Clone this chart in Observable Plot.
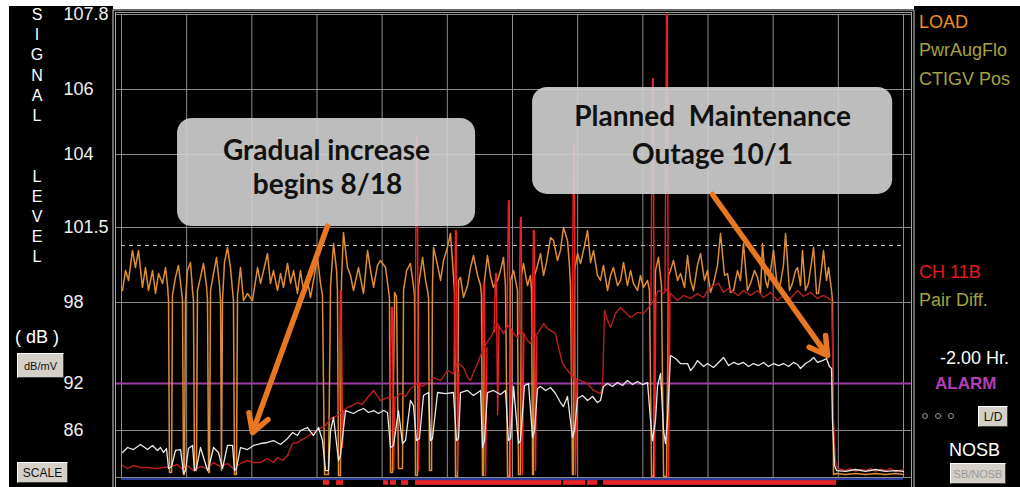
<!DOCTYPE html>
<html><head><meta charset="utf-8">
<script src="https://cdn.jsdelivr.net/npm/d3@7"></script>
<script src="https://cdn.jsdelivr.net/npm/@observablehq/plot@0.6"></script>
<style>
html,body{margin:0;padding:0;background:#fff;width:1020px;height:487px;overflow:hidden;font-family:"Liberation Sans",Arial,sans-serif;}
#leftp{position:absolute;left:9px;top:6px;width:104px;height:481px;background:#000;}
#rightp{position:absolute;left:914px;top:6px;width:106px;height:481px;background:#000;}
#chart{position:absolute;left:9px;top:9px;}
.lbl{position:absolute;white-space:pre;line-height:1;transform:translateY(-50%);font-size:18px;}
.btn{position:absolute;background:#d4d0c8;border-top:1px solid #fff;border-left:1px solid #fff;border-right:1px solid #404040;border-bottom:1px solid #404040;box-sizing:border-box;display:flex;align-items:center;justify-content:center;color:#111;font-size:12px;}
.dot{position:absolute;width:4px;height:4px;border:1px solid #9a9a9a;border-radius:50%;}
</style></head>
<body>
<div id="leftp"></div><div id="rightp"></div><div id="chart"></div><div id="overlay"></div>
<script>
// ---- data (x = days after the first grid line, y = displayed signal level) ----
const loadPts = [[0.08,98.56],[0.31,99.49],[0.54,99.03],[0.84,100.43],[1.07,99.63],[1.30,100.43],[1.61,98.70],[1.84,99.63],[2.07,98.56],[2.38,99.49],[2.61,98.42],[2.84,99.35],[3.15,98.89],[3.38,99.63],[3.53,98.79],[3.61,98.09],[3.68,80.64],[3.84,80.64],[3.91,98.33],[4.14,99.17],[4.37,99.73],[4.60,98.56],[4.68,98.09],[4.76,80.38],[4.83,80.38],[4.91,98.09],[5.06,99.49],[5.29,99.87],[5.45,98.56],[5.52,98.09],[5.60,80.89],[5.75,80.89],[5.83,98.56],[6.06,99.17],[6.29,99.82],[6.52,98.79],[6.60,98.09],[6.68,80.64],[6.75,80.64],[6.83,98.56],[7.06,99.35],[7.29,100.10],[7.52,98.79],[7.60,98.09],[7.67,80.89],[7.75,98.09],[7.90,99.87],[8.13,100.57],[8.36,99.63],[8.52,98.56],[8.59,98.09],[8.67,80.38],[8.82,80.38],[8.90,98.33],[9.13,99.63],[9.36,98.09],[9.67,98.42],[10.05,98.09],[10.44,99.63],[10.67,98.89],[10.90,99.49],[11.20,100.29],[11.43,98.89],[11.66,99.49],[11.97,98.56],[12.20,99.35],[12.43,98.70],[12.74,99.82],[12.97,98.89],[13.20,99.49],[13.50,98.42],[13.73,99.49],[13.96,98.56],[14.27,99.03],[14.50,98.23],[14.73,99.03],[15.04,100.10],[15.27,98.89],[15.42,98.33],[15.58,80.38],[15.88,80.38],[16.04,98.79],[16.27,100.75],[16.50,99.49],[16.57,98.56],[16.65,80.26],[16.80,80.26],[16.88,99.03],[17.03,101.27],[17.34,99.63],[17.57,99.26],[17.80,98.56],[18.18,99.63],[18.57,98.42],[18.88,100.43],[19.11,99.49],[19.34,98.70],[19.64,99.73],[19.87,99.96],[20.26,99.63],[20.49,98.56],[20.56,98.19],[20.64,80.64],[20.79,80.64],[20.95,98.47],[21.10,98.28],[21.25,81.15],[21.56,81.15],[21.64,98.56],[21.87,99.49],[22.17,99.82],[22.40,98.79],[22.48,98.33],[22.56,80.26],[22.71,80.26],[22.79,98.79],[23.10,100.10],[23.33,99.03],[23.48,98.56],[23.56,98.19],[23.63,80.89],[23.79,80.89],[23.86,98.79],[23.94,100.57],[24.25,99.73],[24.48,99.03],[24.71,99.96],[25.01,100.57],[25.24,101.22],[25.47,99.26],[25.55,98.47],[25.63,80.13],[25.78,80.13],[25.86,99.03],[26.01,99.17],[26.24,98.23],[26.55,98.79],[26.78,99.63],[27.01,100.19],[27.32,99.26],[27.55,98.79],[27.62,98.33],[27.70,80.26],[27.78,80.26],[27.85,99.03],[28.08,100.19],[28.31,99.26],[28.54,98.70],[28.85,99.03],[29.08,99.49],[29.31,100.10],[29.46,98.79],[29.62,80.13],[29.77,80.13],[29.85,99.03],[30.08,99.49],[30.31,98.79],[30.38,98.56],[30.46,80.38],[30.61,80.38],[30.69,99.26],[30.84,99.82],[31.15,98.79],[31.38,99.26],[31.46,98.56],[31.54,80.38],[31.61,80.38],[31.69,99.26],[31.92,99.73],[32.15,100.29],[32.38,99.26],[32.61,99.87],[32.92,101.03],[33.15,100.89],[33.45,99.96],[33.68,100.43],[33.91,101.50],[34.22,100.89],[34.37,99.73],[34.45,98.79],[34.60,80.38],[34.68,80.38],[34.76,99.49],[34.99,100.29],[35.22,99.82],[35.53,100.66],[35.76,101.36],[35.99,99.87],[36.22,100.43],[36.52,99.26],[36.75,99.03],[36.98,99.73],[37.29,98.56],[37.52,99.26],[37.75,99.63],[38.06,98.79],[38.29,99.03],[38.52,99.87],[38.82,98.79],[39.06,99.49],[39.28,98.89],[39.59,98.56],[39.82,99.26],[40.05,98.70],[40.36,99.03],[40.51,98.56],[40.67,80.13],[40.82,80.13],[40.97,99.49],[41.20,100.10],[41.43,98.79],[41.59,80.13],[41.82,80.13],[41.97,99.26],[42.12,99.49],[42.35,99.96],[42.66,99.03],[42.89,99.35],[43.20,98.70],[43.43,100.19],[43.66,99.03],[43.89,98.56],[44.19,99.73],[44.43,100.29],[44.73,99.03],[44.96,99.49],[45.19,98.47],[45.42,98.89],[45.73,99.73],[45.96,101.22],[46.27,99.26],[46.50,99.35],[46.73,98.47],[46.96,98.56],[47.26,99.49],[47.49,99.03],[47.72,100.75],[48.03,98.56],[48.26,98.89],[48.57,99.49],[48.80,99.17],[49.03,98.47],[49.18,100.75],[49.41,99.03],[49.57,98.70],[49.80,99.49],[50.03,100.43],[50.33,98.65],[50.56,98.89],[50.79,99.73],[50.95,101.22],[51.25,98.56],[51.48,98.89],[51.71,99.49],[51.87,99.63],[52.10,98.79],[52.25,100.43],[52.48,98.56],[52.71,98.89],[52.94,99.87],[53.10,100.57],[53.33,98.42],[53.48,98.42],[53.71,99.59],[53.86,100.43],[54.09,99.03],[54.25,99.63],[54.48,98.56],[54.55,98.09],[54.63,80.38],[54.86,80.51],[55.55,80.38],[56.32,80.51],[57.09,80.38],[57.85,80.51],[58.62,80.38],[59.39,80.51],[60,80.38]];

const ch11bPts = [[0.08,81.53],[0.46,81.15],[0.92,81.53],[1.46,81.28],[2.0,81.28],[2.61,81.15],[3.22,81.28],[3.76,81.40],[4.30,81.66],[4.76,80.89],[5.06,81.53],[5.52,80.89],[6.06,81.40],[6.60,81.15],[7.06,81.91],[7.60,81.40],[8.13,81.79],[8.59,81.15],[9.13,81.79],[9.67,82.17],[10.13,81.91],[10.67,81.91],[11.20,82.43],[11.66,81.91],[11.97,82.56],[12.36,82.17],[12.74,82.81],[13.12,84.34],[13.50,84.47],[13.73,84.72],[14.27,85.23],[14.73,85.74],[15.27,86.26],[15.65,86.64],[16.04,87.53],[16.57,87.91],[17.03,88.55],[17.34,88.94],[17.72,89.19],[18.11,89.57],[18.49,89.32],[18.88,90.21],[19.34,91.11],[19.87,89.83],[20.41,90.21],[20.87,90.09],[21.41,90.72],[21.79,90.34],[22.17,91.36],[22.71,92.0],[23.10,91.62],[23.48,92.07],[23.94,92.44],[24.48,92.22],[25.01,92.96],[25.47,92.74],[25.78,93.56],[26.24,93.19],[26.55,92.44],[26.78,92.22],[27.01,92.81],[27.32,93.48],[27.78,94.67],[28.31,95.41],[28.85,96.44],[29.08,96.07],[29.31,95.70],[29.62,96.30],[29.85,96.15],[30.08,95.70],[30.38,95.41],[30.61,95.93],[30.84,95.70],[31.15,95.19],[31.38,94.96],[31.61,95.48],[31.92,95.70],[32.15,96.07],[32.38,96.44],[32.69,96.07],[32.92,95.93],[33.30,95.70],[33.53,94.67],[33.84,93.48],[34.22,92.96],[34.68,92.44],[35.22,92.22],[35.76,92.0],[36.22,91.11],[36.75,90.72],[36.91,91.49],[37.06,97.41],[37.29,96.67],[37.52,96.15],[37.90,97.19],[38.29,97.63],[38.67,97.26],[39.06,96.89],[39.59,97.26],[40.05,97.19],[40.44,97.63],[40.82,98.09],[41.20,98.56],[41.59,98.42],[41.89,98.65],[42.12,98.42],[42.66,98.09],[43.12,98.33],[43.66,98.19],[44.19,98.42],[44.66,98.23],[45.04,98.65],[45.42,98.79],[45.81,98.89],[46.19,98.47],[46.58,98.65],[46.96,98.47],[47.34,98.33],[47.72,98.56],[48.26,98.33],[48.80,98.56],[49.26,98.23],[49.80,98.47],[50.33,98.09],[50.79,98.33],[51.33,98.19],[51.87,98.56],[52.33,98.28],[52.86,98.47],[53.40,98.19],[53.86,98.33],[54.25,98.19],[54.48,98.09],[54.55,95.19],[54.63,87.28],[54.78,82.17],[54.94,81.15],[55.55,80.89],[55.93,81.15],[56.32,80.77],[56.70,81.02],[57.09,80.89],[57.47,81.15],[57.85,80.77],[58.24,81.02],[58.62,80.89],[59.0,81.15],[59.39,80.77],[60,81.02]];

// CH 11B short excursions: [spike id, day, level]
const ch11bSpikes = [
 [1,16.68,88.55],[1,16.80,98.56],[1,16.86,98.56],[1,16.96,83.83],[1,17.06,88.55],
 [2,20.60,90.21],[2,20.72,97.63],[2,20.78,97.63],[2,20.88,80.89],[2,20.98,90.21],
 [3,22.51,92.0],[3,22.63,104.52],[3,22.69,104.52],[3,22.79,80.89],[3,22.89,92.0],
 [4,25.51,92.96],[4,25.63,101.36],[4,25.69,101.36],[4,25.79,80.89],[4,25.89,92.96],
 [5,27.66,94.44],[5,27.78,98.89],[5,27.84,98.89],[5,27.94,80.26],[5,28.04,94.67],
 [6,28.58,95.8],[6,28.70,99.35],[6,28.76,99.35],[6,28.86,88.0],[6,28.96,96.2],
 [7,29.57,96.15],[7,29.69,102.42],[7,29.75,102.42],[7,29.85,80.13],[7,29.95,96.0],
 [8,30.49,95.70],[8,30.61,101.84],[8,30.67,101.84],[8,30.77,80.38],[8,30.87,95.7],
 [9,31.49,95.48],[9,31.61,101.36],[9,31.67,101.36],[9,31.77,80.89],[9,31.87,95.5],
 [10,34.56,92.44],[10,34.68,104.34],[10,34.74,104.34],[10,34.84,80.38],[10,34.94,92.3],
 [11,40.62,98.09],[11,40.74,106.26],[11,40.80,106.26],[11,40.90,80.13],[11,41.00,98.3],
 [12,41.70,98.56],[12,41.82,107.8],[12,41.88,107.8],[12,41.98,80.13],[12,42.08,98.4]
];

const pairDiffPts = [[0.08,83.19],[0.46,83.83],[0.92,83.57],[1.46,84.21],[2.0,83.57],[2.38,84.09],[2.76,83.45],[2.99,83.83],[3.22,83.19],[3.45,83.70],[3.61,81.15],[3.84,81.40],[4.14,83.45],[4.53,83.57],[4.76,80.51],[4.91,80.89],[5.14,83.70],[5.45,84.09],[5.60,80.89],[5.75,81.15],[6.06,83.83],[6.60,80.89],[6.68,81.15],[7.06,83.83],[7.44,83.19],[7.75,81.15],[8.13,84.09],[8.52,84.09],[8.67,80.89],[8.82,81.15],[9.13,83.83],[9.67,83.57],[10.13,84.09],[10.67,84.34],[11.20,84.47],[11.66,84.72],[12.20,84.21],[12.74,84.98],[13.12,85.74],[13.50,85.36],[13.73,86.0],[14.27,86.38],[14.73,85.36],[15.12,86.38],[15.42,84.72],[15.65,80.89],[15.88,80.89],[16.04,86.0],[16.27,87.66],[16.65,82.17],[16.80,82.81],[17.19,88.55],[17.80,88.17],[18.18,88.55],[18.57,88.81],[18.95,88.30],[19.34,88.55],[19.72,88.17],[20.11,88.55],[20.41,88.30],[20.64,83.83],[20.87,84.09],[21.25,88.55],[21.56,84.34],[21.79,84.72],[22.17,89.83],[22.40,89.19],[22.63,84.72],[22.86,84.98],[23.17,90.47],[23.56,90.85],[23.71,84.72],[23.86,84.98],[24.25,90.85],[24.86,90.72],[25.47,90.85],[25.70,84.72],[25.86,84.98],[26.01,90.85],[26.55,91.11],[27.01,90.47],[27.55,91.11],[27.70,83.83],[27.85,84.72],[28.08,90.85],[28.54,91.11],[29.08,90.60],[29.46,91.11],[29.69,84.72],[29.85,84.98],[30.08,91.62],[30.46,84.34],[30.61,84.72],[30.92,91.74],[31.23,91.99],[31.54,85.11],[31.69,86.0],[31.92,91.36],[32.15,91.62],[32.54,91.11],[32.92,91.49],[33.30,90.72],[33.68,89.57],[33.91,89.06],[34.22,90.34],[34.60,85.11],[34.76,86.0],[34.99,90.09],[35.37,90.47],[35.76,89.83],[36.14,90.34],[36.52,89.57],[36.75,89.83],[36.98,91.62],[37.29,92.0],[37.67,91.62],[38.06,92.07],[38.44,91.74],[38.82,92.22],[39.21,91.87],[39.59,92.15],[39.97,91.87],[40.36,92.07],[40.59,87.28],[40.74,84.72],[40.97,87.28],[41.13,91.74],[41.36,92.74],[41.59,86.0],[41.74,84.34],[41.89,87.28],[42.12,94.07],[42.51,93.85],[42.89,93.48],[43.43,93.48],[43.66,92.96],[43.97,93.33],[44.19,93.70],[44.66,93.26],[44.96,93.48],[45.42,93.19],[45.81,93.56],[46.19,93.93],[46.58,93.33],[46.96,93.56],[47.34,93.41],[47.72,93.56],[48.11,93.26],[48.49,93.48],[48.88,93.33],[49.26,93.56],[49.64,93.26],[50.03,93.48],[50.41,93.33],[50.79,93.48],[51.18,93.26],[51.56,93.56],[51.87,93.41],[52.10,93.11],[52.48,93.48],[52.86,93.70],[53.10,93.93],[53.40,93.56],[53.79,93.70],[54.09,93.85],[54.32,93.26],[54.48,93.11],[54.55,87.28],[54.71,81.53],[54.86,80.89],[55.55,80.77],[56.32,81.02],[57.09,80.77],[57.85,81.02],[58.62,80.77],[59.39,80.89],[60,80.77]];

// alarm periods (day ranges) shown as red bars under the trace
const alarmBars = [[15.50,15.96],[16.50,17.04],[20.11,20.49],[20.64,21.10],[21.49,22.03],[22.56,33.77],[33.92,35.61],[35.76,36.53],[36.99,54.87]];

const gridDays = [0,5,10,15,20,25,30,35,40,45,50,55,60];
const gridLevels = [80,86,98,101.5,104,106,107.8];
const yTicks = [107.8,106,104,101.5,98,92,86];
const alarmLevel = 92;
const refLevel = 100.66;
const baseLevel = 79.8;

// callouts (positions in data units)
const calloutBoxes = [
  {x1:4.30, x2:27.17, y1:101.53, y2:105.11},
  {x1:31.54, x2:59.17, y1:102.63, y2:106.05}
];
const calloutTexts = [
  {d:15.73, v:104.11, t:"Gradual increase"},
  {d:15.81, v:102.96, t:"begins 8/18"},
  {d:45.35, v:105.15, t:"Planned\u00a0 Maintenance"},
  {d:45.35, v:103.98, t:"Outage 10/1"}
];
const calloutArrows = [
  {x1:15.81, y1:101.55, x2:10.05, y2:85.74},
  {x1:45.35, y1:102.63, x2:54.17, y2:94.07}
];

// side panel texts
const leftLetters = ["S","I","G","N","A","L","","","L","E","V","E","L"];
const legendItems = [
  {t:"LOAD", c:"#f28c28", y:22},
  {t:"PwrAugFlo", c:"#a3a33f", y:50},
  {t:"CTIGV Pos", c:"#a3a33f", y:79},
  {t:"CH 11B", c:"#e8191e", y:272},
  {t:"Pair Diff.", c:"#a3a33f", y:300}
];

// ---- the instrument's non-uniform level axis: breakpoints and their relative heights ----
const levelBreaks = [80,86,92,98,101.5,104,106,107.8];
const levelHeights = [0,0.1015,0.2030,0.3780,0.5400,0.6976,0.8380,1];
const level = d3.scaleLinear().domain(levelBreaks).range(levelHeights);
const L = v => level(v);
const P = a => a.map(([d,v]) => ({d, y: L(v)}));

const chart = Plot.plot({
  width: 905, height: 480,
  marginLeft: 103.5, marginRight: 0.5, marginTop: 0.5, marginBottom: 0,
  style: {background:"#000", color:"#f2f2f2", fontFamily:"Liberation Sans, Arial, sans-serif", overflow:"visible"},
  x: {domain:[0,60], range:[112,894], axis:null},
  y: {domain:[0,1], range:[468,5], axis:null},
  marks: [
    Plot.ruleX(gridDays, {x: d=>d, y1: L(80), y2: L(107.8), stroke:"#8c8c8c", strokeWidth:1}),
    Plot.ruleY(gridLevels, {y: d=>L(d), stroke:"#8c8c8c", strokeWidth:1, insetLeft:2.5, insetRight:2.5}),
    Plot.ruleY([refLevel], {y: d=>L(d), x1:0, x2:60, stroke:"#c8c8c8", strokeWidth:1, strokeDasharray:"4,4"}),
    Plot.ruleY([alarmLevel], {y: d=>L(d), stroke:"#9b3fa3", strokeWidth:2, insetLeft:2.5, insetRight:2.5}),
    Plot.ruleY([baseLevel], {y: d=>L(d), x1:0, x2:60, stroke:"#2c3c9e", strokeWidth:2}),
    Plot.rect(alarmBars, {x1: d=>d[0], x2: d=>d[1], y1: L(79.0), y2: L(79.6), fill:"#e8242b"}),
    Plot.frame({stroke:"#d0d0d0"}),
    Plot.frame({stroke:"#a0a0a0", inset:2.5, insetBottom:-10}),
    Plot.line(P(loadPts), {x:"d", y:"y", stroke:"#de8d36", strokeWidth:1.5}),
    Plot.line(P(ch11bPts), {x:"d", y:"y", stroke:"#b81f1f", strokeWidth:1.4}),
    Plot.line(ch11bSpikes, {x: d=>d[1], y: d=>L(d[2]), z: d=>d[0], stroke:"#ec2020", strokeWidth:1.4}),
    Plot.line(P(pairDiffPts), {x:"d", y:"y", stroke:"#e8e8e8", strokeWidth:1.3}),
    Plot.rect(calloutBoxes, {x1:"x1", x2:"x2", y1: d=>L(d.y1), y2: d=>L(d.y2), rx:15, fill:"#d2d2d2", fillOpacity:0.9}),
    Plot.text(calloutTexts, {x:"d", y: d=>L(d.v), text:"t", fontFamily:"Lato, 'Open Sans', sans-serif", fontWeight:"bold", fontSize:28, fill:"#121212", textAnchor:"middle"}),
    Plot.arrow(calloutArrows, {x1:"x1", y1: d=>L(d.y1), x2:"x2", y2: d=>L(d.y2), stroke:"#e87722", strokeWidth:5.5, headLength:5.5, headAngle:60}),
    Plot.axisY({ticks: yTicks.map(L), tickFormat: p => String(+level.invert(p).toFixed(1)), tickSize:0, tickPadding:49.5, textAnchor:"start", fontSize:18, fill:"#f0f0f0", label:null})
  ]
});
document.getElementById("chart").appendChild(chart);

// ---- side panels ----
const ov = document.getElementById("overlay");
function add(html){ ov.insertAdjacentHTML("beforeend", html); }
leftLetters.forEach((ch, i) => {
  if (ch) add(`<div class="lbl" style="left:30px;width:14px;text-align:center;top:${15 + 20.2*i}px;color:#fff;font-size:16px;">${ch}</div>`);
});
add(`<div class="lbl" style="left:15px;top:337px;color:#fff;">( dB )</div>`);
add(`<div class="btn" style="left:17px;top:353px;width:47px;height:25px;font-size:11px;">dB/mV</div>`);
add(`<div class="btn" style="left:17px;top:462px;width:51px;height:21px;">SCALE</div>`);
legendItems.forEach(it => add(`<div class="lbl" style="left:919px;top:${it.y}px;color:${it.c};">${it.t}</div>`));
add(`<div class="lbl" style="left:940px;top:358px;color:#fff;">-2.00 Hr.</div>`);
add(`<div class="lbl" style="left:935px;top:383px;color:#b83cb8;font-weight:bold;font-size:17px;">ALARM</div>`);
[922, 935, 948].forEach(x => add(`<div class="dot" style="left:${x}px;top:413px;"></div>`));
add(`<div class="btn" style="left:978px;top:406px;width:30px;height:21px;">L/D</div>`);
add(`<div class="lbl" style="left:949px;top:450px;color:#fff;">NOSB</div>`);
add(`<div class="btn" style="left:950px;top:463px;width:56px;height:21px;font-size:11px;color:#9a9a9a;">SB/NOSB</div>`);
</script>
</body></html>
